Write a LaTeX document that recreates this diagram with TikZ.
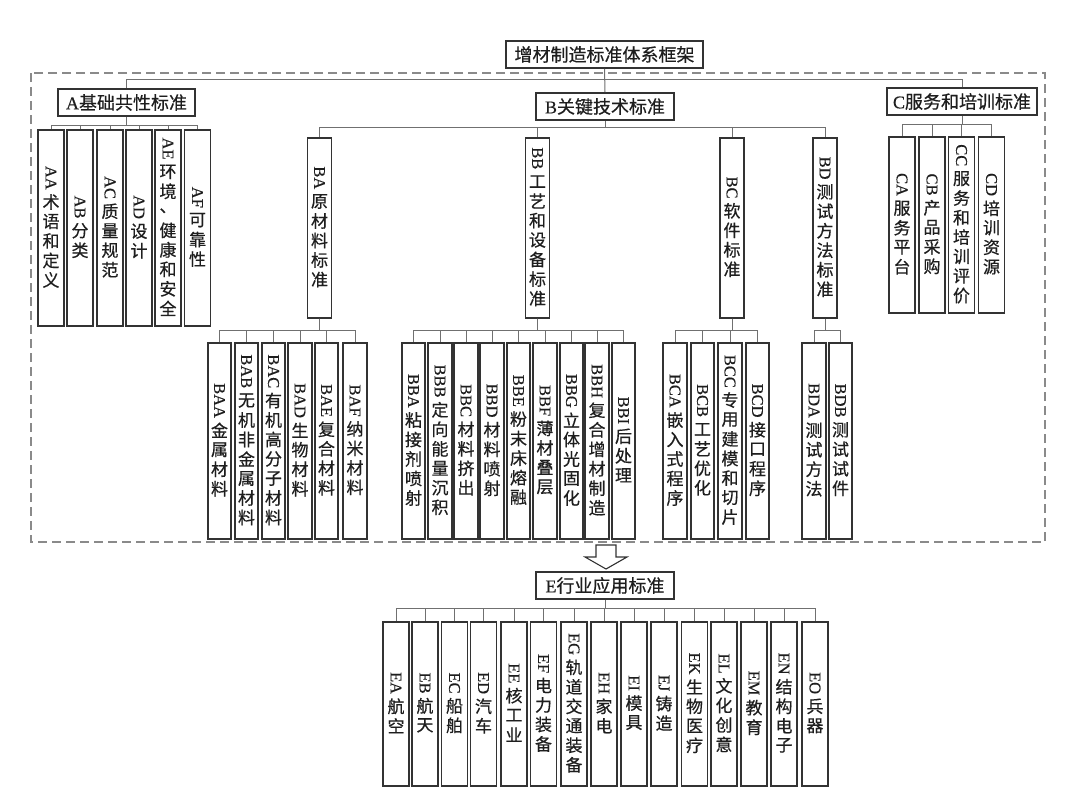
\documentclass[tikz,border=0pt]{standalone}
\usepackage{fontspec}
\usepackage{graphicx}
\setmainfont{Liberation Serif}[FakeBold=0.3]
\newfontfamily\cjk[FakeBold=0.5]{Noto Sans CJK SC}
\definecolor{boxc}{HTML}{333333}
\definecolor{linec}{HTML}{707070}
\definecolor{dashc}{HTML}{8A8A8A}
\definecolor{txtc}{HTML}{1E1E1E}
\def\cstk#1{\ifx\relax#1\else\vbox to 19.5pt{\vss\hbox to 20pt{\hss\cjk\fontsize{17}{19}\selectfont #1\hss}\vss}\expandafter\cstk\fi}
\newcommand\vl[2]{\vbox{\offinterlineskip\hbox to 20pt{\hss\rotatebox{-90}{#1}\hss}\kern2.5pt\cstk#2\relax}}
\tikzset{
  hbox/.style={draw=boxc,line width=1.6pt,inner sep=0pt,text=txtc,font=\fontsize{18}{20}\selectfont},
  vbx/.style={draw=boxc,line width=1.6pt,inner sep=0pt,text=txtc,anchor=north,font=\fontsize{16.5}{18}\selectfont},
  conn/.style={draw=linec,line width=1pt},
  frame/.style={draw=dashc,line width=1.2pt,dash pattern=on 9pt off 5pt},
}
\begin{document}
\begin{tikzpicture}[x=1pt,y=-1pt]
\useasboundingbox (0,0) rectangle (1080,796);
\fill[white] (0,0) rectangle (1080,796);
\draw[frame] (31,73) rectangle (1045,542);
% top
\node[hbox,minimum width=197pt,minimum height=27pt] (T) at (604.5,54.5) {\cjk 增材制造标准体系框架};
\node[hbox,minimum width=137pt,minimum height=27pt] (A) at (126.5,102.5) {A\cjk 基础共性标准};
\node[hbox,minimum width=138pt,minimum height=27pt] (B) at (605,106.5) {B\cjk 关键技术标准};
\node[hbox,minimum width=150pt,minimum height=27pt] (C) at (962,101.5) {C\cjk 服务和培训标准};
\draw[conn] (T.south) -- (B.north);
\draw[conn] (T.south) -- (T.south |- 0,79) -| (A.north);
\draw[conn] (T.south) -- (T.south |- 0,79) -| (C.north);
% A children
\begin{scope}[every node/.style={vbx,minimum width=26pt,minimum height=196pt}]
\node (AA) at (51,129) {\vl{AA}{术语和定义}};
\node (AB) at (80,129) {\vl{AB}{分类}};
\node (AC) at (110,129) {\vl{AC}{质量规范}};
\node (AD) at (139,129) {\vl{AD}{设计}};
\node (AE) at (168,129) {\vl{AE}{环境、健康和安全}};
\node (AF) at (197.5,129) {\vl{AF}{可靠性}};
\end{scope}
\foreach \c in {AA,AB,AC,AD,AE,AF} \draw[conn] (A.south) -- (A.south |- 0,125) -| (\c.north);
% C children
\begin{scope}[every node/.style={vbx,minimum width=26pt,minimum height=176pt}]
\node (CA) at (902,136) {\vl{CA}{服务平台}};
\node (CB) at (932,136) {\vl{CB}{产品采购}};
\node (CC) at (961.5,136) {\vl{CC}{服务和培训评价}};
\node (CD) at (991.5,136) {\vl{CD}{培训资源}};
\end{scope}
\foreach \c in {CA,CB,CC,CD} \draw[conn] (C.south) -- (C.south |- 0,124) -| (\c.north);
% B children
\begin{scope}[every node/.style={vbx,minimum width=24pt,minimum height=180pt}]
\node (BA) at (319.5,137) {\vl{BA}{原材料标准}};
\node (BB) at (537.5,137) {\vl{BB}{工艺和设备标准}};
\node (BC) at (732,137) {\vl{BC}{软件标准}};
\node (BD) at (825,137) {\vl{BD}{测试方法标准}};
\end{scope}
\foreach \c in {BA,BB,BC,BD} \draw[conn] (B.south) -- (B.south |- 0,127) -| (\c.north);
% leaves
\begin{scope}[every node/.style={vbx,minimum width=23.5pt,minimum height=196pt}]
\node (BAA) at (219.5,342) {\vl{BAA}{金属材料}};
\node (BAB) at (246.5,342) {\vl{BAB}{无机非金属材料}};
\node (BAC) at (273.5,342) {\vl{BAC}{有机高分子材料}};
\node (BAD) at (300,342) {\vl{BAD}{生物材料}};
\node (BAE) at (326.5,342) {\vl{BAE}{复合材料}};
\node (BAF) at (355,342) {\vl{BAF}{纳米材料}};
\node (BBA) at (413.5,342) {\vl{BBA}{粘接剂喷射}};
\node (BBB) at (440,342) {\vl{BBB}{定向能量沉积}};
\node (BBC) at (466,342) {\vl{BBC}{材料挤出}};
\node (BBD) at (492,342) {\vl{BBD}{材料喷射}};
\node (BBE) at (518.5,342) {\vl{BBE}{粉末床熔融}};
\node (BBF) at (545,342) {\vl{BBF}{薄材叠层}};
\node (BBG) at (571.5,342) {\vl{BBG}{立体光固化}};
\node (BBH) at (597,342) {\vl{BBH}{复合增材制造}};
\node (BBI) at (623.5,342) {\vl{BBI}{后处理}};
\node (BCA) at (675,342) {\vl{BCA}{嵌入式程序}};
\node (BCB) at (702.5,342) {\vl{BCB}{工艺优化}};
\node (BCC) at (730,342) {\vl{BCC}{专用建模和切片}};
\node (BCD) at (757.5,342) {\vl{BCD}{接口程序}};
\node (BDA) at (814,342) {\vl{BDA}{测试方法}};
\node (BDB) at (840.5,342) {\vl{BDB}{测试试件}};
\end{scope}
\foreach \c in {BAA,BAB,BAC,BAD,BAE,BAF} \draw[conn] (BA.south) -- (BA.south |- 0,330) -| (\c.north);
\foreach \c in {BBA,BBB,BBC,BBD,BBE,BBF,BBG,BBH,BBI} \draw[conn] (BB.south) -- (BB.south |- 0,330) -| (\c.north);
\foreach \c in {BCA,BCB,BCC,BCD} \draw[conn] (BC.south) -- (BC.south |- 0,330) -| (\c.north);
\foreach \c in {BDA,BDB} \draw[conn] (BD.south) -- (BD.south |- 0,330) -| (\c.north);
% arrow
\draw[draw=boxc,line width=1.1pt,fill=white,line join=miter] (596,545) -- (616,545) -- (616,557) -- (627,557) -- (606,569) -- (585,557) -- (596,557) -- cycle;
% E
\node[hbox,minimum width=138pt,minimum height=27pt] (E) at (605,585.5) {E\cjk 行业应用标准};
\begin{scope}[every node/.style={vbx,minimum width=26pt,minimum height=164pt}]
\node (EA) at (396,621) {\vl{EA}{航空}};
\node (EB) at (425,621) {\vl{EB}{航天}};
\node (EC) at (454.5,621) {\vl{EC}{船舶}};
\node (ED) at (483.5,621) {\vl{ED}{汽车}};
\node (EE) at (514,621) {\vl{EE}{核工业}};
\node (EF) at (543.5,621) {\vl{EF}{电力装备}};
\node (EG) at (574,621) {\vl{EG}{轨道交通装备}};
\node (EH) at (604,621) {\vl{EH}{家电}};
\node (EI) at (634,621) {\vl{EI}{模具}};
\node (EJ) at (664,621) {\vl{EJ}{铸造}};
\node (EK) at (694.5,621) {\vl{EK}{生物医疗}};
\node (EL) at (724,621) {\vl{EL}{文化创意}};
\node (EM) at (754,621) {\vl{EM}{教育}};
\node (EN) at (784,621) {\vl{EN}{结构电子}};
\node (EO) at (815,621) {\vl{EO}{兵器}};
\end{scope}
\foreach \c in {EA,EB,EC,ED,EE,EF,EG,EH,EI,EJ,EK,EL,EM,EN,EO} \draw[conn] (E.south) -- (E.south |- 0,608) -| (\c.north);
\end{tikzpicture}
\end{document}
